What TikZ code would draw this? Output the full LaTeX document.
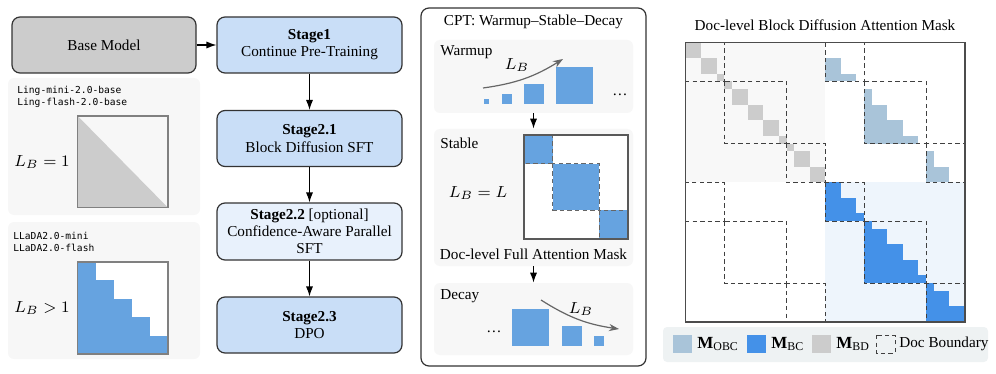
\documentclass[tikz,border=0pt]{standalone}
\usepackage{amsmath, amssymb}
\usepackage{fontspec}
\setmainfont{Liberation Serif}
\newfontfamily\monofont{DejaVu Sans Mono}
\usetikzlibrary{arrows.meta, positioning, calc}
\definecolor{edge}{HTML}{333333}
\definecolor{baseGray}{HTML}{CCCCCC}
\definecolor{stageBlue}{HTML}{C9DEF7}
\definecolor{stageLight}{HTML}{E8F1FC}
\definecolor{panelGray}{HTML}{F7F7F7}
\definecolor{blockBlue}{HTML}{66A3E0}
\definecolor{bcBlue}{HTML}{4491E8}
\definecolor{obcBlue}{HTML}{A9C4D9}
\definecolor{bdGray}{HTML}{CCCCCC}
\definecolor{tlBack}{HTML}{F8F8F8}
\definecolor{brBack}{HTML}{EEF5FC}
\definecolor{legBack}{HTML}{EEF2F3}

\begin{document}
\begin{tikzpicture}[x=0.5pt, y=-0.5pt,
    txt/.style={font=\fontsize{7.6}{8.6}\selectfont},
    lbl/.style={txt, anchor=west, inner sep=0pt},
    mathtxt/.style={font=\fontsize{8}{9}\selectfont},
    mono/.style={font=\monofont\fontsize{4.8}{5.8}\selectfont, align=left, anchor=north west, inner sep=0pt},
    stagebox/.style={txt, draw=edge, line width=0.6pt, rounded corners=4pt, fill=stageBlue,
        minimum width=92.5pt, minimum height=28pt, align=center, inner sep=1pt},
    panel/.style={fill=panelGray, rounded corners=3pt, minimum width=99.5pt, inner sep=0pt},
    flow/.style={-{Latex[length=5pt,width=3.6pt]}, line width=0.6pt},
    lbarrow/.style={-{Stealth[length=5pt,width=3.6pt]}, line width=0.6pt, black!60},
    doc/.style={dashed, dash pattern=on 2.2pt off 1.6pt, line width=0.5pt, black!75}]
    \useasboundingbox (0,0) rectangle (996,374);

    % Training pipeline
    \node[stagebox, fill=baseGray, minimum width=92pt] (base) at (104,45) {Base Model};
    \node[stagebox] (s1) at (309.5,45) {\textbf{Stage1}\\Continue Pre-Training};
    \node[stagebox] (s21) at (309.5,138.5) {\textbf{Stage2.1}\\Block Diffusion SFT};
    \node[stagebox, fill=stageLight, minimum height=28.5pt] (s22) at (309.5,231.5)
        {\textbf{Stage2.2} [optional]\\Confidence-Aware Parallel\\SFT};
    \node[stagebox] (s23) at (309.5,325) {\textbf{Stage2.3}\\DPO};
    \draw[flow] (base) -- (s1);
    \draw[flow] (s1) -- (s21);
    \draw[flow] (s21) -- (s22);
    \draw[flow] (s22) -- (s23);

    % Model panels
    \fill[panelGray, rounded corners=3pt] (8,78) rectangle (200,215);
    \fill[panelGray, rounded corners=3pt] (8,222) rectangle (200,359);
    \node[mono] (ling) at (17,86) {Ling-mini-2.0-base\\Ling-flash-2.0-base};
    \node[mono] (llada) at (13,232) {LLaDA2.0-mini\\LLaDA2.0-flash};
    % causal mask
    \fill[bdGray] (77.7,116) -- (168,207.7) -- (77.7,207.7) -- cycle;
    \draw[black!50, line width=0.6pt] (77.7,116) rectangle (168,207.7);
    \node[mathtxt] (lb1) at (42,162) {$L_B = 1$};
    % block mask
    \fill[white] (77.7,262) rectangle (168,354);
    \foreach \k in {0,...,4}
        \fill[blockBlue] (77.7,{262+\k*18.4}) rectangle ({77.7+(\k+1)*18.06},{262+(\k+1)*18.4});
    \draw[black!50, line width=0.6pt] (77.7,262) rectangle (168,354);
    \node[mathtxt] (lb2) at (42,308) {$L_B > 1$};

    % CPT schedule
    \draw[draw=edge, line width=0.6pt, rounded corners=4pt, fill=white] (421,8) rectangle (646,366);
    \node[txt] (cpt) at (533.5,22) {CPT: Warmup--Stable--Decay};
    \node[panel, minimum height=36.5pt] (warm) at (533.5,76.5) {};
    \node[panel, minimum height=68.5pt] (stable) at (533.5,197.5) {};
    \node[panel, minimum height=36pt] (decay) at (533.5,319) {};
    \draw[flow] (warm) -- (stable);
    \draw[flow] (stable) -- (decay);
    % warmup
    \node[lbl] (wlabel) at (440,52) {Warmup};
    \foreach \xa/\s in {484/5, 502/10, 524/20, 556/37}
        \fill[blockBlue] (\xa,104) rectangle ++(\s,-\s);
    \node[txt] (wdots) at (620,95) {\dots};
    \coordinate (w0) at (483,88);
    \coordinate (w1) at (563,59);
    \draw[lbarrow] (w0) to[bend right=12] (w1);
    \node[mathtxt] (wlb) at (517,65) {$L_B$};
    % stable
    \node[lbl] (slabel) at (440,143) {Stable};
    \node[mathtxt] (slb) at (478,193) {$L_B = L$};
    \begin{scope}[shift={(524,135)}, x=2.889pt, y=-2.889pt]
        \fill[white] (0,0) rectangle (18,18);
        \foreach \a/\b in {0/5, 5/13, 13/18}
            \fill[blockBlue] (\a,\a) rectangle (\b,\b);
        \foreach \a/\b in {0/5, 5/13, 13/18}
            \draw[doc, black!60] (\a,\a) rectangle (\b,\b);
        \draw[black!65, line width=0.6pt] (0,0) rectangle (18,18);
    \end{scope}
    \node[txt] (fulltitle) at (533.5,254) {Doc-level Full Attention Mask};
    % decay
    \node[lbl] (dlabel) at (440,296) {Decay};
    \node[txt] (ddots) at (494,332) {\dots};
    \foreach \xa/\s in {512/37, 562/20, 594/10}
        \fill[blockBlue] (\xa,346) rectangle ++(\s,-\s);
    \coordinate (d0) at (541,300);
    \coordinate (d1) at (619,329);
    \draw[lbarrow] (d0) to[bend right=12] (d1);
    \node[mathtxt] (dlb) at (581,309) {$L_B$};

    % Block diffusion attention mask
    \node[txt] (masktitle) at (825,25) {Doc-level Block Diffusion Attention Mask};
    \begin{scope}[shift={(685.7,42.7)}, x=3.879pt, y=-3.879pt]
        \fill[tlBack] (0,0) rectangle (18,18);
        \fill[brBack] (18,18) rectangle (36,36);
        \foreach \a/\b/\s in {0/2/0, 2/4/0, 4/5/0, 5/6/5, 6/8/5, 8/10/5, 10/12/5, 12/13/5,
                13/14/13, 14/16/13, 16/18/13} {
            \fill[bdGray] (\a,\a) rectangle (\b,\b);
            \fill[bcBlue] (18+\s,18+\a) rectangle (18+\b,18+\b);
            \ifnum\a>\s \fill[obcBlue] (18+\s,\a) rectangle (18+\a,\b); \fi
        }
        \foreach \ox in {0,18}
            \foreach \oy in {0,18}
                \foreach \a/\b in {0/5, 5/13, 13/18}
                    \draw[doc] (\ox+\a,\oy+\a) rectangle (\ox+\b,\oy+\b);
        \draw[black!70, line width=0.7pt] (0,0) rectangle (36,36);
    \end{scope}

    % Legend
    \fill[legBack, rounded corners=2pt] (663,327) rectangle (988,362);
    \fill[obcBlue] (673,335) rectangle (692,353);
    \node[lbl, font=\fontsize{8.5}{10}\selectfont] (lobc) at (697,344) {$\mathbf{M}_{\mathrm{OBC}}$};
    \fill[bcBlue] (747,335) rectangle (766,353);
    \node[lbl, font=\fontsize{8.5}{10}\selectfont] (lbc) at (771,344) {$\mathbf{M}_{\mathrm{BC}}$};
    \fill[bdGray] (812,335) rectangle (831,353);
    \node[lbl, font=\fontsize{8.5}{10}\selectfont] (lbd) at (836,344) {$\mathbf{M}_{\mathrm{BD}}$};
    \draw[doc] (876,335) rectangle (895,353);
    \node[lbl] (lbound) at (899,344) {Doc Boundary};
\end{tikzpicture}
\end{document}
